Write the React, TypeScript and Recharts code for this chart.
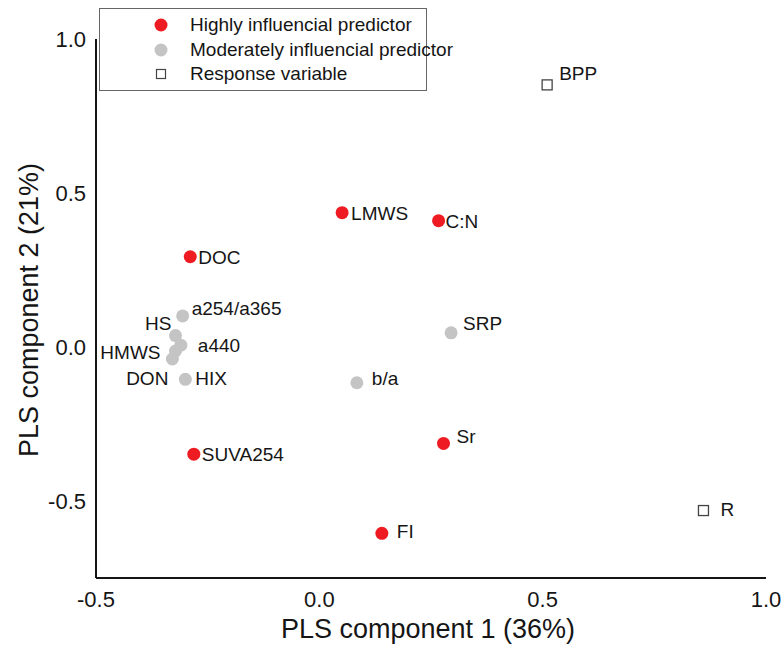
import { ScatterChart, Scatter, XAxis, YAxis, Legend } from 'recharts'

// PLS loadings: component 1 (x) and component 2 (y)
const highNames = ['LMWS', 'C:N', 'DOC', 'SUVA254', 'Sr', 'FI']
const highX = [0.051, 0.267, -0.289, -0.281, 0.278, 0.14]
const highY = [0.436, 0.41, 0.293, -0.348, -0.313, -0.605]

const modNames = ['a254/a365', 'HS', 'a440', 'HMWS', 'DON', 'HIX', 'SRP', 'b/a']
const modX = [-0.306, -0.322, -0.31, -0.322, -0.329, -0.3, 0.295, 0.084]
const modY = [0.101, 0.037, 0.006, -0.013, -0.039, -0.105, 0.046, -0.116]

const respNames = ['BPP', 'R']
const respX = [0.51, 0.86]
const respY = [0.851, -0.531]

const xTicks = [-0.5, 0, 0.5, 1.0]
const yTicks = [-0.5, 0, 0.5, 1.0]

const seriesNames = ['Highly influencial predictor', 'Moderately influencial predictor', 'Response variable']

const build = (names: string[], xs: number[], ys: number[]) =>
  names.map((name, i) => ({ name, x: xs[i], y: ys[i] }))

const highData = build(highNames, highX, highY)
const modData = build(modNames, modX, modY)
const respData = build(respNames, respX, respY)

const FONT = '"Liberation Sans", Arial, sans-serif'
const RED = '#ee1c22'
const GRAY = '#c4c4c4'
const INK = '#151515'

// where each point's label sits relative to its marker: [dx, dy, anchor]
const labelPlacement: Record<string, [number, number, 'start' | 'end']> = {
  LMWS: [9, 0, 'start'],
  'C:N': [7, 0, 'start'],
  DOC: [8, 0, 'start'],
  SUVA254: [8, 0, 'start'],
  Sr: [13, -7, 'start'],
  FI: [15, -2, 'start'],
  'a254/a365': [9, -8, 'start'],
  HS: [-4, -12, 'end'],
  a440: [17, 0, 'start'],
  HMWS: [-15, 1, 'end'],
  DON: [-4, 19, 'end'],
  HIX: [10, -1, 'start'],
  SRP: [12, -10, 'start'],
  'b/a': [15, -5, 'start'],
  BPP: [12, -12, 'start'],
  R: [17, -1, 'start'],
}

function PointLabel({ cx, cy, name }: { cx: number; cy: number; name: string }) {
  const [dx, dy, anchor] = labelPlacement[name] || [9, 0, 'start']
  return (
    <text x={cx + dx} y={cy + dy} dy="0.36em" textAnchor={anchor} fontSize={19} fill={INK} fontFamily={FONT}>
      {name}
    </text>
  )
}

function makeShape(kind: 'high' | 'mod' | 'resp') {
  return (props: any) => {
    const { cx, cy, payload } = props
    return (
      <g>
        {kind === 'resp' ? (
          <rect x={cx - 5} y={cy - 5} width={10} height={10} fill="#fff" stroke="#444" strokeWidth={1.3} />
        ) : (
          <circle cx={cx} cy={cy} r={6.5} fill={kind === 'high' ? RED : GRAY} />
        )}
        <PointLabel cx={cx} cy={cy} name={payload.name} />
      </g>
    )
  }
}

function LegendBox() {
  return (
    <div
      style={{
        boxSizing: 'border-box',
        width: 328,
        height: 83,
        border: '1.5px solid #666',
        background: '#fff',
        paddingTop: 4,
        fontFamily: FONT,
      }}
    >
      {seriesNames.map((name, i) => (
        <div key={name} style={{ display: 'flex', alignItems: 'center', height: 24.5 }}>
          <svg width={90} height={20} style={{ flex: 'none' }}>
            {i === 2 ? (
              <rect x={56.5} y={5.5} width={9} height={9} fill="#fff" stroke="#444" strokeWidth={1.2} />
            ) : (
              <circle cx={61} cy={10} r={6.5} fill={i === 0 ? RED : GRAY} />
            )}
          </svg>
          <span style={{ fontSize: 19, color: INK, whiteSpace: 'nowrap' }}>{name}</span>
        </div>
      ))}
    </div>
  )
}

function XTitle(props: any) {
  const { viewBox } = props
  return (
    <text x={viewBox.x + viewBox.width / 2 - 3} y={viewBox.y + 60} textAnchor="middle" fontSize={27} fill={INK} fontFamily={FONT}>
      PLS component 1 (36%)
    </text>
  )
}

function YTitle() {
  return (
    <text x={38} y={310} transform="rotate(-90 38 310)" textAnchor="middle" fontSize={27} fill={INK} fontFamily={FONT}>
      PLS component 2 (21%)
    </text>
  )
}

export default function App() {
  const tick = { fontSize: 22, fill: INK, fontFamily: FONT }
  return (
    <div style={{ position: 'absolute', left: 0, top: 0, background: '#fff', fontFamily: FONT }}>
      <ScatterChart width={784} height={655} margin={{ top: 39, right: 18, bottom: 0, left: 0 }}>
        <XAxis
          type="number"
          dataKey="x"
          domain={[-0.5, 1.0]}
          ticks={xTicks}
          tickFormatter={(v: number) => v.toFixed(1)}
          tickLine={false}
          tickMargin={7}
          axisLine={{ stroke: INK, strokeWidth: 2 }}
          tick={tick}
          height={77}
          label={<XTitle />}
        />
        <YAxis
          type="number"
          dataKey="y"
          domain={[-0.75, 1.0]}
          ticks={yTicks}
          tickFormatter={(v: number) => v.toFixed(1)}
          tickLine={false}
          tickMargin={4}
          axisLine={{ stroke: INK, strokeWidth: 2 }}
          tick={tick}
          width={96}
          label={<YTitle />}
        />
        <Legend
          layout="vertical"
          align="center"
          verticalAlign="middle"
          wrapperStyle={{ top: 8, left: 99, width: 328, height: 83 }}
          content={<LegendBox />}
        />
        <Scatter name={seriesNames[0]} data={highData} fill={RED} shape={makeShape('high')} isAnimationActive={false} />
        <Scatter name={seriesNames[1]} data={modData} fill={GRAY} shape={makeShape('mod')} isAnimationActive={false} />
        <Scatter name={seriesNames[2]} data={respData} fill="#fff" shape={makeShape('resp')} isAnimationActive={false} />
      </ScatterChart>
    </div>
  )
}
